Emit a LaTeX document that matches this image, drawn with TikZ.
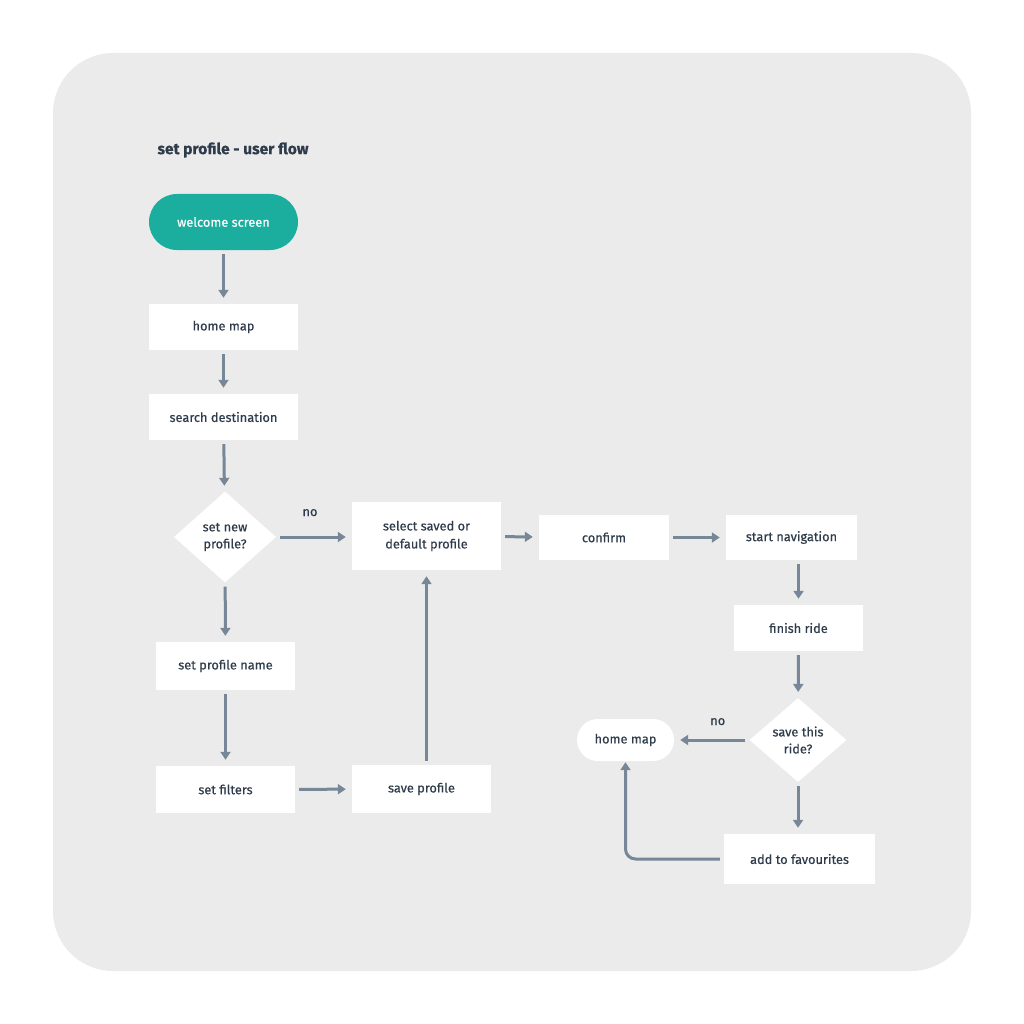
\documentclass[tikz,border=0pt]{standalone}
\usepackage{fontspec}
\setmainfont{Fira Sans}[FakeBold=0.4]
\usetikzlibrary{shapes.geometric,arrows.meta}
\definecolor{panelgrey}{HTML}{EBEBEB}
\definecolor{flowteal}{HTML}{1BAE9F}
\definecolor{ink}{HTML}{2E3B4A}
\definecolor{linegrey}{HTML}{778797}
\tikzset{
  box/.style={fill=white, text=ink, minimum width=149, minimum height=46,
    inner sep=0, font=\fontsize{12.8}{15}\selectfont},
  pill/.style={box, rounded corners=21},
  decide/.style={diamond, fill=white, text=ink, inner sep=0, align=center,
    font=\fontsize{12.8}{17}\selectfont},
  flow/.style={linegrey, line width=3, -{Triangle[length=8,width=10]},
    shorten <=4, shorten >=6},
  lbl/.style={text=ink, font=\fontsize{12.8}{15}\selectfont}
}
\begin{document}
\begin{tikzpicture}[x=1pt,y=-1pt]
\useasboundingbox (0,0) rectangle (1024,1024);
% panel with a soft shadow
\foreach \i in {1,...,16}
  \fill[black, opacity=0.0018, rounded corners=60+\i]
    (53-\i,55-\i) rectangle (971+\i,973+\i);
\fill[panelgrey, rounded corners=60] (53,53) rectangle (971,971);
\node[anchor=west, text=ink, font=\fontsize{15.5}{18}\selectfont\bfseries]
  (title) at (154,150) {set profile - user flow};
% left column
\node[pill, fill=flowteal, text=white, minimum height=56, rounded corners=28]
  (welcome) at (223.5,222) {welcome screen};
\node[box] (home) at (223.5,327) {home map};
\node[box] (search) at (223.5,417) {search destination};
\node[decide, minimum width=102, minimum height=91]
  (newprof) at (225,537) {set new\\profile?};
\node[box, minimum width=139, minimum height=48] (name) at (225.5,666) {set profile name};
\node[box, minimum width=139, minimum height=47] (filters) at (225.5,789.5) {set filters};
\node[box, minimum width=139, minimum height=48] (saveprof) at (421.5,789) {save profile};
% middle row
\node[box, minimum height=68, align=center, font=\fontsize{12.8}{18}\selectfont]
  (select) at (426.5,536) {select saved or\\default profile};
\node[box, minimum width=130, minimum height=45] (confirm) at (604,537.5) {confirm};
\node[box, minimum width=131, minimum height=45] (start) at (791.5,537.5) {start navigation};
% right column
\node[box, minimum width=129] (finish) at (798.5,628) {finish ride};
\node[decide, minimum width=97, minimum height=84]
  (saveride) at (798,740) {save this\\ride?};
\node[pill, minimum width=97, minimum height=42] (home2) at (625.5,740) {home map};
\node[box, minimum width=151, minimum height=50] (fav) at (799.5,859) {add to favourites};
% connectors
\draw[flow] (welcome) -- (home);
\draw[flow] (home) -- (search);
\draw[flow] (search) -- (newprof);
\draw[flow] (newprof.east) -- (select.west |- newprof.east)
  node[lbl, midway, above=16, xshift=-4] {no};
\draw[flow] (newprof) -- (name);
\draw[flow] (name) -- (filters);
\draw[flow] (filters) -- (saveprof);
\draw[flow] (saveprof.north -| select.south) -- (select.south);
\draw[flow] (select) -- (confirm);
\draw[flow] (confirm) -- (start);
\draw[flow] (start.south -| finish.south) -- (finish);
\draw[flow] (finish) -- (saveride);
\draw[flow] (saveride) -- (home2) node[lbl, midway, above=10, xshift=6] {no};
\draw[flow] (saveride) -- (fav.north -| saveride);
\draw[flow, rounded corners=10, shorten >=1] (fav.west) -- (home2.south |- fav.west)
  -- (home2.south);
\end{tikzpicture}
\end{document}
